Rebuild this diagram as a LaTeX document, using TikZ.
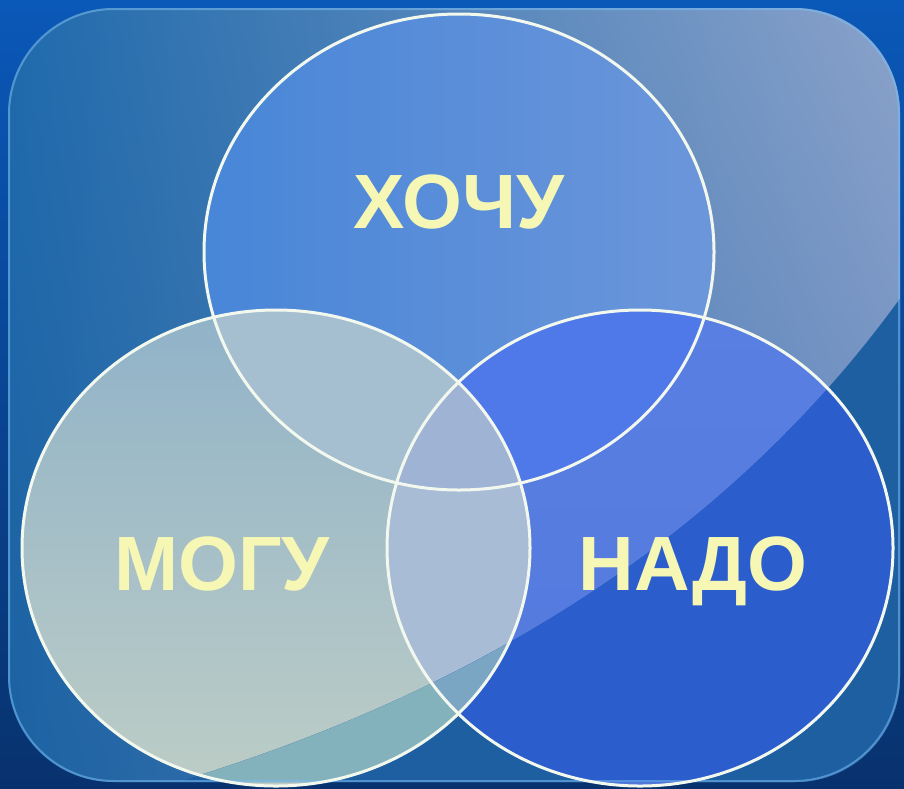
\documentclass[tikz,border=0pt]{standalone}
\usepackage{fontspec}
\setmainfont{Liberation Sans}
\usetikzlibrary{shadings}
\definecolor{bgtop}{HTML}{0A58B8}
\definecolor{bgbot}{HTML}{08326E}
\definecolor{inUL}{HTML}{1F6AAC}
\definecolor{inUR}{HTML}{8AA2CA}
\definecolor{inLL}{HTML}{1C62A2}
\definecolor{inLR}{HTML}{6688BE}
\definecolor{panelD}{HTML}{1E5FA2}
\definecolor{rimc}{HTML}{7ABCF2}
\definecolor{topA}{HTML}{4886D8}
\definecolor{topB}{HTML}{6C96DA}
\definecolor{leftA}{HTML}{90B2C8}
\definecolor{leftB}{HTML}{BDCDC6}
\definecolor{leftD}{HTML}{84B2BC}
\definecolor{rightA}{HTML}{5A7FE2}
\definecolor{rightB}{HTML}{5479DE}
\definecolor{rightD}{HTML}{2B5DCC}
\definecolor{tlc}{HTML}{A6BFD0}
\definecolor{trc}{HTML}{4F78E8}
\definecolor{lrc}{HTML}{A8BCD6}
\definecolor{lrD}{HTML}{7AA6C4}
\definecolor{allc}{HTML}{9FB4D4}
\definecolor{ringc}{HTML}{F2F8EE}
\definecolor{lblc}{HTML}{F6F7B4}
\begin{document}
\begin{tikzpicture}[x=1pt,y=-1pt,
  ring/.style={draw=ringc, line width=3pt},
  lbl/.style={text=lblc, font=\bfseries\fontsize{77}{80}\selectfont, inner sep=0pt, anchor=base}]
\def\cT{(459,252) ellipse [x radius=255pt, y radius=238pt]}
\def\cL{(276,548) ellipse [x radius=254pt, y radius=238pt]}
\def\cR{(640,548) ellipse [x radius=253pt, y radius=238pt]}
\def\panel{(8,8) rectangle (900,782)}
\def\below{(60,823) -- (200,775) .. controls (500,680) and (750,520) .. (920,270) -- (960,270) -- (960,840) -- (60,840) -- cycle}
\useasboundingbox (0,0) rectangle (904,788);
% outer background
\shade[top color=bgtop, bottom color=bgbot] (0,0) rectangle (904,788);
% inner glossy panel
\shade[rounded corners=105pt, upper left=inUL, upper right=inUR, lower left=inLL, lower right=inLR] \panel;
% circles
\shade[left color=topA, right color=topB] \cT;
\shade[top color=leftA, bottom color=leftB] \cL;
\shade[top color=rightA, bottom color=rightB] \cR;
% intersections
\begin{scope}\clip \cT; \fill[tlc] \cL; \end{scope}
\begin{scope}\clip \cT; \fill[trc] \cR; \end{scope}
\begin{scope}\clip \cL; \fill[lrc] \cR; \end{scope}
\begin{scope}\clip \cT; \clip \cL; \fill[allc] \cR; \end{scope}
% glossy sheen: darker part below the curved edge
\begin{scope}
  \clip[rounded corners=105pt] \panel;
  \clip \below;
  \fill[panelD] (0,0) rectangle (904,788);
  \fill[leftD] \cL;
  \fill[rightD] \cR;
  \begin{scope}\clip \cL; \fill[lrD] \cR; \end{scope}
\end{scope}
% panel rim
\draw[rimc, line width=2pt, opacity=0.55, rounded corners=105pt] (9,9) rectangle (899,781);
% outlines
\draw[ring] \cT;
\draw[ring] \cL;
\draw[ring] \cR;
% labels
\node[lbl] (hochu) at (459,228) {ХОЧУ};
\node[lbl] (mogu) at (222,590) {МОГУ};
\node[lbl] (nado) at (693,590) {НАДО};
\end{tikzpicture}
\end{document}
